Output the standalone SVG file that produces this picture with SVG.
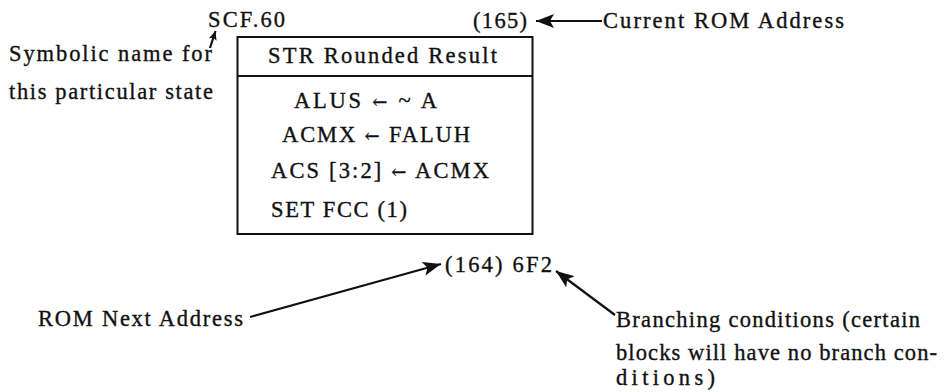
<svg xmlns="http://www.w3.org/2000/svg" width="944" height="392" viewBox="0 0 944 392">
<style>
text{font-family:"Liberation Serif","DejaVu Serif",serif;font-size:22.5px;fill:#111;stroke:#111;stroke-width:0.35}
.ar{font-family:"DejaVu Serif",serif;font-size:18px}
.ln{stroke:#111;stroke-width:2;fill:none}
.con{stroke:#111;stroke-width:2.2;fill:none}
</style>
<defs>
<marker id="ah" markerUnits="userSpaceOnUse" markerWidth="20" markerHeight="14" refX="18" refY="7" orient="auto">
<path d="M0,0 L18,7 L0,14 L4,7 Z" fill="#111"/>
</marker>
<marker id="ahs" markerUnits="userSpaceOnUse" markerWidth="10" markerHeight="8" refX="9" refY="4" orient="auto">
<path d="M0,0 L9,4 L0,8 L2,4 Z" fill="#111"/>
</marker>
</defs>
<rect width="944" height="392" fill="#fff"/>
<g id="state">
<rect class="ln" x="237.5" y="37" width="295" height="197"/>
<line class="ln" x1="237.5" y1="76" x2="532.5" y2="76"/>
<text x="268" y="63" textLength="229" lengthAdjust="spacing">STR Rounded Result</text>
<text x="294" y="108" textLength="143" lengthAdjust="spacing">ALUS <tspan class="ar">←</tspan> ~ A</text>
<text x="282" y="142" textLength="188" lengthAdjust="spacing">ACMX <tspan class="ar">←</tspan> FALUH</text>
<text x="271" y="178" textLength="218" lengthAdjust="spacing">ACS [3:2] <tspan class="ar">←</tspan> ACMX</text>
<text x="271" y="217" textLength="136" lengthAdjust="spacing">SET FCC (1)</text>
</g>
<g id="symname">
<text x="208" y="27" textLength="77" lengthAdjust="spacing">SCF.60</text>
</g>
<g id="romaddr">
<text x="473" y="28" textLength="54" lengthAdjust="spacing">(165)</text>
</g>
<g id="nextaddr">
<text x="445" y="272" textLength="107" lengthAdjust="spacing">(164) 6F2</text>
</g>
<g id="label-symbolic">
<text x="9" y="61" textLength="203" lengthAdjust="spacing">Symbolic name for</text>
<text x="9" y="99" textLength="204" lengthAdjust="spacing">this particular state</text>
</g>
<g id="label-current">
<text x="603" y="28" textLength="241" lengthAdjust="spacing">Current ROM Address</text>
</g>
<g id="label-next">
<text x="38" y="326" textLength="205" lengthAdjust="spacing">ROM Next Address</text>
</g>
<g id="label-branch">
<text x="616" y="327" textLength="304" lengthAdjust="spacing">Branching conditions (certain</text>
<text x="616" y="360" textLength="321" lengthAdjust="spacing">blocks will have no branch con-</text>
<text x="616" y="385" textLength="99" lengthAdjust="spacing">ditions)</text>
</g>
<g id="connectors">
<line class="con" x1="210" y1="48" x2="215.5" y2="31" marker-end="url(#ahs)"/>
<line class="con" x1="602" y1="21" x2="536" y2="21" marker-end="url(#ah)"/>
<line class="con" x1="250" y1="317" x2="441" y2="264" marker-end="url(#ah)"/>
<line class="con" x1="615" y1="315" x2="556" y2="271" marker-end="url(#ah)"/>
</g>
</svg>
